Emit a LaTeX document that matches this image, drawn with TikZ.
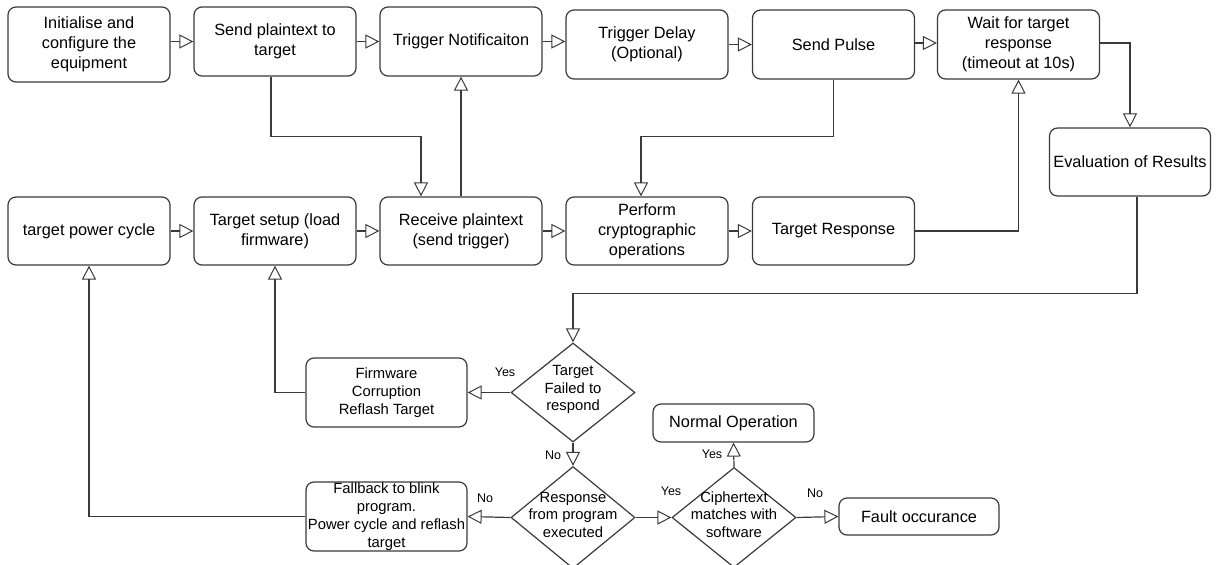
\documentclass[tikz,border=0pt]{standalone}
\usepackage{fontspec}
\setmainfont{Liberation Sans}
\usetikzlibrary{arrows.meta,shapes.geometric}
\definecolor{ln}{HTML}{3A3A3A}
\tikzset{
  box/.style={draw=ln, line width=1.2pt, rounded corners=8pt, fill=white,
    minimum width=162pt, minimum height=69pt, inner sep=0pt, align=center,
    font=\fontsize{16.3}{20}\selectfont},
  smallbox/.style={box, font=\fontsize{14.8}{17.8}\selectfont},
  decision/.style={draw=ln, line width=1.2pt, diamond, inner sep=0pt,
    minimum width=124pt, minimum height=100pt},
  dtext/.style={align=center, font=\fontsize{14.8}{17.5}\selectfont, inner sep=0pt},
  arr/.style={draw=ln, line width=1.2pt,
    -{Triangle[open, length=14pt, width=14pt, line width=1pt]}},
  tag/.style={font=\fontsize{12.5}{14}\selectfont, inner sep=0pt},
}
\begin{document}
\begin{tikzpicture}[x=1pt, y=-1pt]
\useasboundingbox (0,0) rectangle (1216,565);

% top row
\node[box, minimum height=75pt] (init) at (89,44.5) {Initialise and\\configure the\\equipment};
\node[box] (send) at (275,41.5) {Send plaintext to\\target};
\node[box] (trig) at (461,41.5) {Trigger Notificaiton};
\node[box] (delay) at (647,44.5) {Trigger Delay\\(Optional)};
\node[box] (pulse) at (833.5,44.5) {Send Pulse};
\node[box] (wait) at (1018.5,44.5) {Wait for target\\response\\(timeout at 10s)};
\node[box, minimum width=161pt, minimum height=68pt] (evalr) at (1130,162) {Evaluation of Results};

% second row
\node[box, minimum height=68pt] (power) at (89,231) {target power cycle};
\node[box, minimum height=68pt] (setup) at (275,231) {Target setup (load\\firmware)};
\node[box, minimum height=68pt] (recv) at (461,231) {Receive plaintext\\(send trigger)};
\node[box, minimum height=68pt] (perf) at (647,231) {Perform\\cryptographic\\operations};
\node[box, minimum height=68pt] (resp) at (833.5,231) {Target Response};

% decisions
\node[decision, minimum height=99pt] (d1) at (573,392.5) {};
\node[dtext] (d1t) at (573,389.5) {Target\\Failed to\\respond};
\node[decision, minimum height=102pt] (d2) at (573,517.5) {};
\node[dtext] (d2t) at (573,514.5) {Response\\from program\\executed};
\node[decision] (d3) at (734,517.5) {};
\node[dtext] (d3t) at (734,514.5) {Ciphertext\\matches with\\software};

% outcome boxes
\node[smallbox, minimum width=161pt] (firm) at (386.5,392.5) {Firmware\\Corruption\\Reflash Target};
\node[smallbox, minimum width=161pt] (fall) at (386.5,516.5) {Fallback to blink\\program.\\Power cycle and reflash\\target};
\node[box, minimum width=161pt, minimum height=38pt] (normal) at (733.5,423) {Normal Operation};
\node[box, minimum width=160pt, minimum height=37pt] (fault) at (919,516.5) {Fault occurance};

% top row flow
\draw[arr] (init.east |- send.west) -- (send.west);
\draw[arr] (send.east) -- (trig.west);
\draw[arr] (trig.east) -- (trig.east -| delay.west);
\draw[arr] (delay.east) -- (pulse.west);
\draw[arr] (pulse.east |- 0,43) -- (wait.west |- 0,43);
\draw[arr] (wait.east |- 0,43) -| (evalr.north);

% second row flow
\draw[arr] (power.east) -- (setup.west);
\draw[arr] (setup.east) -- (recv.west);
\draw[arr] (recv.east) -- (perf.west);
\draw[arr] (perf.east) -- (resp.west);

% links between rows
\draw[arr] ([xshift=-4pt]send.south) -- ++(0,60) -| ([xshift=-40pt]recv.north);
\draw[arr] (recv.north) -- (trig.south);
\draw[arr] (pulse.south) -- ++(0,57) -| ([xshift=-6pt]perf.north);
\draw[arr] (resp.east) -| (wait.south);

% evaluation and decisions
\draw[arr] ([xshift=7pt]evalr.south) -- ++(0,97) -| (d1.north);
\draw[arr] (d1.west) -- (firm.east);
\draw[arr] (firm.west) -| (setup.south);
\draw[arr] (d1.south) -- (d2.north);
\draw[arr] (d2.west) -- (fall.east);
\draw[arr] (fall.west) -| (power.south);
\draw[arr] (d2.east) -- (d3.west);
\draw[arr] (d3.north) -- (normal.south);
\draw[arr] (d3.east) -- (fault.west);

% branch labels
\node[tag] (y1) at (505,372) {Yes};
\node[tag] (n1) at (553,455) {No};
\node[tag] (n2) at (485,498) {No};
\node[tag] (y2) at (671,491) {Yes};
\node[tag] (y3) at (712,454) {Yes};
\node[tag] (n3) at (815,493) {No};
\end{tikzpicture}
\end{document}
